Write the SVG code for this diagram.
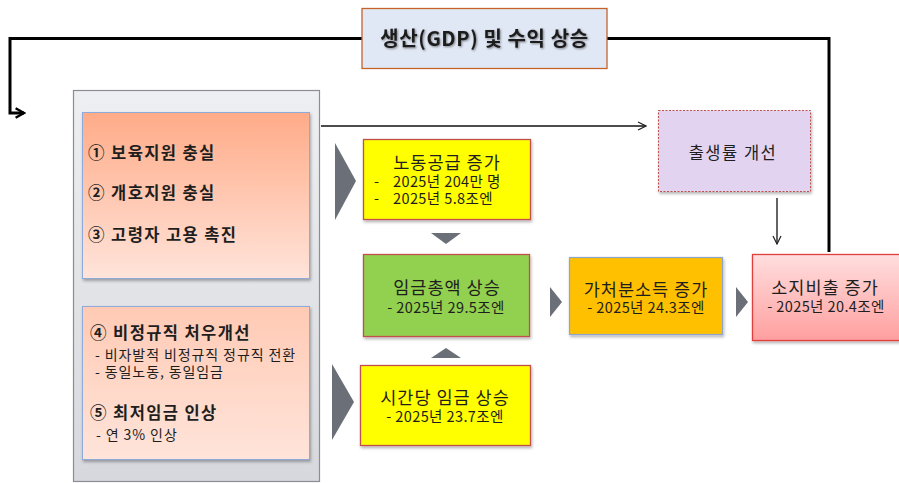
<svg xmlns="http://www.w3.org/2000/svg" width="899" height="483" viewBox="0 0 899 483">
<defs>
  <linearGradient id="gCont" x1="0" y1="0" x2="0" y2="1">
    <stop offset="0" stop-color="#eeeff2"/>
    <stop offset="1" stop-color="#d6d8dd"/>
  </linearGradient>
  <linearGradient id="gBox1" x1="0" y1="0" x2="0" y2="1">
    <stop offset="0" stop-color="#ffab88"/>
    <stop offset="1" stop-color="#ffe4da"/>
  </linearGradient>
  <linearGradient id="gBox2" x1="0" y1="0" x2="0" y2="1">
    <stop offset="0" stop-color="#ffcab4"/>
    <stop offset="1" stop-color="#ffe4da"/>
  </linearGradient>
  <linearGradient id="gPink" x1="0" y1="0" x2="0" y2="1">
    <stop offset="0" stop-color="#ffdede"/>
    <stop offset="1" stop-color="#ff9f9f"/>
  </linearGradient>
  <filter id="sh" x="-10%" y="-10%" width="125%" height="130%">
    <feDropShadow dx="1" dy="2" stdDeviation="1.5" flood-color="#000" flood-opacity="0.3"/>
  </filter>
  <filter id="tsh" x="-5%" y="-20%" width="110%" height="150%">
    <feDropShadow dx="1" dy="1" stdDeviation="0.8" flood-color="#000" flood-opacity="0.45"/>
  </filter>
  <marker id="openThick" viewBox="0 0 10 10" refX="8" refY="5" markerWidth="4" markerHeight="4" orient="auto" markerUnits="strokeWidth">
    <path d="M1,1 L8,5 L1,9" fill="none" stroke="#000" stroke-width="2"/>
  </marker>
  <marker id="openThin" viewBox="0 0 10 10" refX="9" refY="5" markerWidth="10" markerHeight="10" orient="auto" markerUnits="userSpaceOnUse">
    <path d="M1,1 L9,5 L1,9" fill="none" stroke="#222" stroke-width="1.2"/>
  </marker>
  <style>
    text { font-family: "Noto Sans CJK KR", "Noto Sans", sans-serif; fill: #1e1e1e; }
    .title { font-size: 20px; font-weight: bold; letter-spacing: 0.6px; }
    .bold { font-size: 16.5px; font-weight: bold; letter-spacing: 1.4px; }
    .sub { font-size: 14px; letter-spacing: 0.9px; }
    .main { font-size: 17.5px; letter-spacing: 1px; }
    .small { font-size: 14.5px; letter-spacing: 0.4px; }
    .chev { fill: #6b6f78; }
  </style>
</defs>

<g id="connectors">
  <polyline points="362,38.5 10,38.5 10,113 24,113" fill="none" stroke="#000" stroke-width="3" marker-end="url(#openThick)"/>
  <polyline points="607,38.5 829,38.5 829,252" fill="none" stroke="#000" stroke-width="3"/>
  <line x1="321" y1="126" x2="646" y2="126" stroke="#111" stroke-width="1.3" marker-end="url(#openThin)"/>
  <line x1="777" y1="198" x2="777" y2="244" stroke="#111" stroke-width="1.3" marker-end="url(#openThin)"/>
  <polygon class="chev" points="335,143 356,181 335,220"/>
  <polygon class="chev" points="332,364 354,402 332,440"/>
  <polygon class="chev" points="431,233 461,233 446,244"/>
  <polygon class="chev" points="431,358 461,358 446,348"/>
  <polygon class="chev" points="550,287 562,302 550,317"/>
  <polygon class="chev" points="736,287 748,302 736,317"/>
</g>

<g id="gdp">
  <rect x="362" y="8.5" width="245" height="60" fill="#e1e8f5" stroke="#c5632a" stroke-width="1.3"/>
  <text class="title" x="484.5" y="45.5" text-anchor="middle" filter="url(#tsh)">생산(GDP) 및 수익 상승</text>
</g>

<g id="policies">
  <rect x="73.5" y="90.5" width="246" height="391" fill="url(#gCont)" stroke="#8b8d92" stroke-width="1.2"/>
  <g id="policy1">
    <rect x="82.5" y="112.5" width="227" height="166" fill="url(#gBox1)" stroke="#8eaadb" stroke-width="1" filter="url(#sh)"/>
    <text class="bold" x="88" y="159">① 보육지원 충실</text>
    <text class="bold" x="88" y="199">② 개호지원 충실</text>
    <text class="bold" x="88" y="241">③ 고령자 고용 촉진</text>
  </g>
  <g id="policy2">
    <rect x="82.5" y="306.5" width="227" height="153" fill="url(#gBox2)" stroke="#8eaadb" stroke-width="1" filter="url(#sh)"/>
    <text class="bold" x="90" y="339">④ 비정규직 처우개선</text>
    <text class="sub" x="95" y="360">- 비자발적 비정규직 정규직 전환</text>
    <text class="sub" x="95" y="377">- 동일노동, 동일임금</text>
    <text class="bold" x="90" y="419">⑤ 최저임금 인상</text>
    <text class="sub" x="96" y="440">- 연 3% 인상</text>
  </g>
</g>

<g id="labor">
  <rect x="363.5" y="139.5" width="167" height="80" fill="#ffff00" stroke="#c0504d" stroke-width="1.3" filter="url(#sh)"/>
  <text class="main" x="447" y="169" text-anchor="middle">노동공급 증가</text>
  <text class="small" x="374" y="187">-</text>
  <text class="small" x="393" y="187">2025년 204만 명</text>
  <text class="small" x="374" y="204">-</text>
  <text class="small" x="393" y="204">2025년 5.8조엔</text>
</g>

<g id="wagetotal">
  <rect x="363.5" y="254.5" width="166" height="82" fill="#92d050" stroke="#c0504d" stroke-width="1.3" filter="url(#sh)"/>
  <text class="main" x="447" y="294" text-anchor="middle">임금총액 상승</text>
  <text class="small" x="446" y="313" text-anchor="middle">- 2025년  29.5조엔</text>
</g>

<g id="hourly">
  <rect x="360.5" y="365.5" width="170" height="80" fill="#ffff00" stroke="#c0504d" stroke-width="1.3" filter="url(#sh)"/>
  <text class="main" x="445" y="404" text-anchor="middle">시간당 임금 상승</text>
  <text class="small" x="445" y="422" text-anchor="middle">- 2025년  23.7조엔</text>
</g>

<g id="disposable">
  <rect x="569.5" y="257.5" width="153" height="77" fill="#ffc000" stroke="#8ea4c8" stroke-width="1.2" filter="url(#sh)"/>
  <text class="main" x="646" y="296" text-anchor="middle">가처분소득 증가</text>
  <text class="small" x="646" y="313" text-anchor="middle">- 2025년  24.3조엔</text>
</g>

<g id="consumption">
  <rect x="752.5" y="254.5" width="150" height="86" fill="url(#gPink)" stroke="#e0403c" stroke-width="1.3" filter="url(#sh)"/>
  <text class="main" x="825" y="294" text-anchor="middle">소지비출 증가</text>
  <text class="small" x="826" y="312" text-anchor="middle">- 2025년  20.4조엔</text>
</g>

<g id="birthrate">
  <rect x="658.5" y="110.5" width="152" height="81" fill="#e2d3f1" stroke="#c0504d" stroke-width="1" stroke-dasharray="2,1.5" filter="url(#sh)"/>
  <text x="733" y="159" text-anchor="middle" style="font-size:16.5px; letter-spacing:1.5px">출생률 개선</text>
</g>
</svg>
